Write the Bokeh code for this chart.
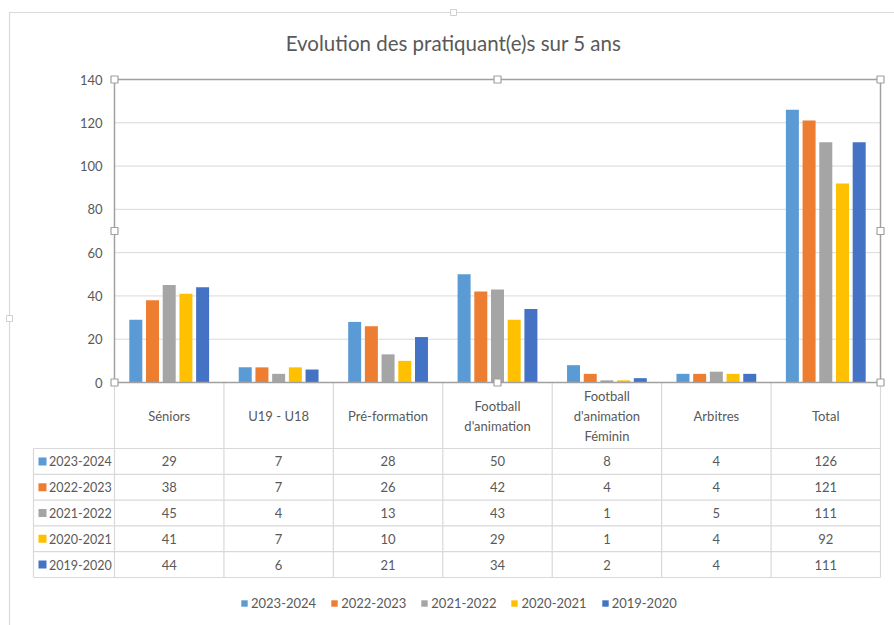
from bokeh.plotting import figure
from bokeh.models import Range1d, LinearAxis, FixedTicker, ColumnDataSource, Legend, LegendItem
from bokeh.embed import file_html
from bokeh.resources import INLINE
from bokeh.core.properties import value

# ---------------- data ----------------
title_text = "Evolution des pratiquant(e)s sur 5 ans"
categories = ["Séniors", "U19 - U18", "Pré-formation", "Football\nd'animation",
              "Football\nd'animation\nFéminin", "Arbitres", "Total"]
seasons = ["2023-2024", "2022-2023", "2021-2022", "2020-2021", "2019-2020"]
s2023_2024 = [29, 7, 28, 50, 8, 4, 126]
s2022_2023 = [38, 7, 26, 42, 4, 4, 121]
s2021_2022 = [45, 4, 13, 43, 1, 5, 111]
s2020_2021 = [41, 7, 10, 29, 1, 4, 92]
s2019_2020 = [44, 6, 21, 34, 2, 4, 111]
series = [s2023_2024, s2022_2023, s2021_2022, s2020_2021, s2019_2020]
colors = ["#5B9BD5", "#ED7D31", "#A5A5A5", "#FFC000", "#4472C4"]
y_ticks = [0, 20, 40, 60, 80, 100, 120, 140]

# ---------------- layout (pixels) ----------------
FX0, FY0, FW, FH = 0, 0, 894, 625
PX_L, PX_R, PY_T, PY_B = 114, 880, 79, 382
YMAX = y_ticks[-1]
ncat = len(categories)
cw = (PX_R - PX_L) / ncat
kk = (PY_B - PY_T) / YMAX


def X(px):
    return (px - PX_L) / cw


def Y(py):
    return (PY_B - py) / kk


TEXT = "#595959"
FONT = "Lato"
GRID = "#D9D9D9"
BORDER = "#A0A0A0"

p = figure(width=FW, height=FH, output_backend="svg", toolbar_location=None,
           x_range=Range1d(X(FX0), X(FX0 + FW)), y_range=Range1d(Y(FY0 + FH), Y(FY0)),
           x_axis_type=None, y_axis_type=None, min_border=0, outline_line_color=None,
           background_fill_color="white", border_fill_color="white")
p.xgrid.visible = False
p.ygrid.visible = False

# chart border
p.quad(left=[X(9)], right=[X(905)], top=[Y(12)], bottom=[Y(640)],
       fill_color=None, line_color="#D9D9D9", line_width=1.2)
p.scatter(x=[X(453), X(9)], y=[Y(12), Y(318)], marker="square", size=6,
          fill_color="white", line_color="#D0D0D0", line_width=1)

# horizontal gridlines
grid_vals = y_ticks[1:-1]
p.segment(x0=[0] * len(grid_vals), x1=[ncat] * len(grid_vals), y0=grid_vals, y1=grid_vals,
          line_color=GRID, line_width=1)

# table
row_top = 448
table_bot = 577
rowh = (table_bot - row_top) / len(seasons)
h_lines = [Y(row_top + r * rowh) for r in range(len(seasons) + 1)]
p.segment(x0=[X(33)] * len(h_lines), x1=[ncat] * len(h_lines), y0=h_lines, y1=h_lines,
          line_color=GRID, line_width=1.2)
v_x = list(range(ncat + 1))
p.segment(x0=v_x, x1=v_x, y0=[0] * len(v_x), y1=[Y(table_bot)] * len(v_x),
          line_color=GRID, line_width=1.2)
p.segment(x0=[X(33)], x1=[X(33)], y0=[Y(row_top)], y1=[Y(table_bot)],
          line_color=GRID, line_width=1.2)

# bars
step = 16.7 / cw
bw = 13.0 / cw
renderers = []
for j, (name, vals, col) in enumerate(zip(seasons, series, colors)):
    xs = [i + 0.5 + (j - 2) * step for i in range(ncat)]
    src = ColumnDataSource(dict(x=xs, top=vals))
    r = p.vbar(x="x", top="top", bottom=0, width=bw, source=src,
               fill_color=col, line_color=None)
    renderers.append(r)

# plot-area border + handles
p.quad(left=[0], right=[ncat], bottom=[0], top=[YMAX], fill_color=None,
       line_color=BORDER, line_width=1.5)
hx = [0, ncat / 2, ncat, 0, ncat, 0, ncat / 2, ncat]
hy = [YMAX, YMAX, YMAX, YMAX / 2, YMAX / 2, 0, 0, 0]
p.scatter(x=hx, y=hy, marker="square", size=7, fill_color="white",
          line_color=BORDER, line_width=1.2)

# y axis
yaxis = LinearAxis(ticker=FixedTicker(ticks=y_ticks), fixed_location=0, bounds=(0, YMAX),
                   axis_line_color=None, major_tick_line_color=None,
                   minor_tick_line_color=None, major_label_text_color=TEXT,
                   major_label_text_font=FONT, major_label_text_font_size="13px",
                   major_label_standoff=6)
p.add_layout(yaxis, "left")

# title
p.text(x=[X(453)], y=[Y(42)], text=[title_text], text_align="center",
       text_baseline="middle", text_color=TEXT, text_font=value(FONT),
       text_font_size="20.5px")

# category labels
p.text(x=[i + 0.5 for i in range(ncat)], y=[Y(415)] * ncat, text=categories,
       text_align="center", text_baseline="middle", text_color=TEXT,
       text_font=value(FONT), text_font_size="13px", text_line_height=1.25)

# table values
for j, (name, vals, col) in enumerate(zip(seasons, series, colors)):
    yc = Y(row_top + (j + 0.5) * rowh)
    p.text(x=[i + 0.5 for i in range(ncat)], y=[yc] * ncat, text=[str(v) for v in vals],
           text_align="center", text_baseline="middle", text_color=TEXT,
           text_font=value(FONT), text_font_size="13px")
    p.scatter(x=[X(42)], y=[yc], marker="square", size=8, fill_color=col, line_color=None)
    p.text(x=[X(48.5)], y=[yc], text=[name], text_align="left", text_baseline="middle",
           text_color=TEXT, text_font=value(FONT), text_font_size="12.5px")

# legend
legend = Legend(items=[LegendItem(label=s, renderers=[r]) for s, r in zip(seasons, renderers)],
                orientation="horizontal", location=(240, 14),
                glyph_width=8, glyph_height=8, label_standoff=3, spacing=14,
                label_height=14, padding=0, margin=0,
                label_text_font=FONT, label_text_font_size="13px", label_text_color=TEXT,
                border_line_color=None, background_fill_alpha=0)
p.add_layout(legend, "center")

open("out.html", "w").write(file_html(p, INLINE))
